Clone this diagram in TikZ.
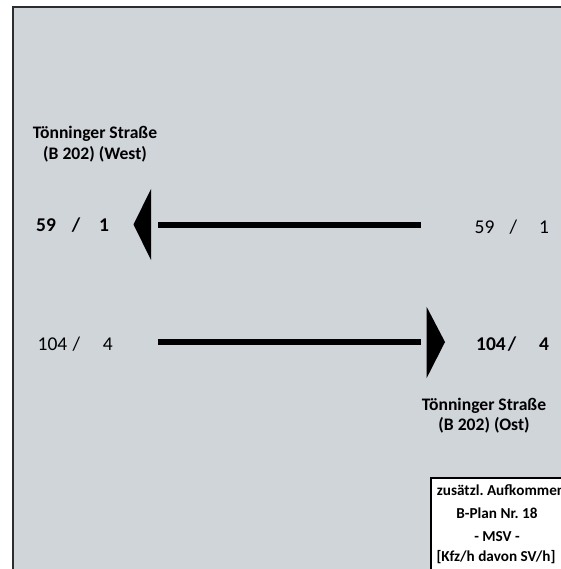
\documentclass[tikz,border=0pt]{standalone}
\usepackage{fontspec}
\setmainfont{Carlito}
\frenchspacing
\definecolor{panel}{RGB}{208,213,217}
\definecolor{rim}{RGB}{45,45,45}
\begin{document}
\begin{tikzpicture}[x=1pt,y=-1pt,
  roadname/.style={font=\bfseries\fontsize{17.6}{20}\selectfont, inner sep=0pt, anchor=base},
  flowbold/.style={font=\bfseries\fontsize{19.5}{22}\selectfont, inner sep=0pt, anchor=base},
  flowplain/.style={font=\fontsize{19.5}{22}\selectfont, inner sep=0pt, anchor=base},
  shaft/.style={line width=5.5pt},
  head/.style={fill=black},
  legendtxt/.style={font=\bfseries\fontsize{15.2}{18}\selectfont, inner sep=0pt, anchor=base}]
\useasboundingbox (0,0) rectangle (560,569);

% background panel, running past the right and lower page edges
\draw[rim, line width=1.3pt, fill=panel] (13,7) rectangle (700,700);

% westbound stream
\coordinate (wA) at (421,225);
\coordinate (wB) at (158,225);
\draw[shaft] (wA) -- (wB);
\fill[head] (151,189) -- (133.5,224.5) -- (151,260) -- cycle;

% eastbound stream
\coordinate (eA) at (158,342);
\coordinate (eB) at (421,342);
\draw[shaft] (eA) -- (eB);
\fill[head] (426.7,307) -- (445,342) -- (426.7,378) -- cycle;

% road names
\node[roadname] (w1) at (95,138.5) {Tönninger Straße};
\node[roadname] (w2) at (95,159.5) {(B 202) (West)};
\node[roadname] (o1) at (484,410.5) {Tönninger Straße};
\node[roadname] (o2) at (484,430.5) {(B 202) (Ost)};

% volumes west
\node[flowbold] (wn1) at (46,231.5) {59};
\node[flowbold] (ws1) at (76,231.5) {/};
\node[flowbold] (wm1) at (104,231.5) {1};
\node[flowplain] (wn2) at (484.5,233) {59};
\node[flowplain] (ws2) at (513.5,233) {/};
\node[flowplain] (wm2) at (544,233) {1};

% volumes east
\node[flowplain] (en1) at (52.5,350) {104};
\node[flowplain] (es1) at (76.5,350) {/};
\node[flowplain] (em1) at (107.7,350) {4};
\node[flowbold] (en2) at (491,350) {104};
\node[flowbold] (es2) at (512,350) {/};
\node[flowbold] (em2) at (544,350) {4};

% legend
\draw[black, line width=1.8pt, fill=white] (431,478) rectangle (700,700);
\node[legendtxt] (lg1) at (501,495.5) {zusätzl. Aufkommen};
\node[legendtxt] (lg2) at (497,518) {B-Plan Nr. 18};
\node[legendtxt] (lg3) at (497,541) {- MSV -};
\node[legendtxt] (lg4) at (496,561) {[Kfz/h davon SV/h]};
\end{tikzpicture}
\end{document}
